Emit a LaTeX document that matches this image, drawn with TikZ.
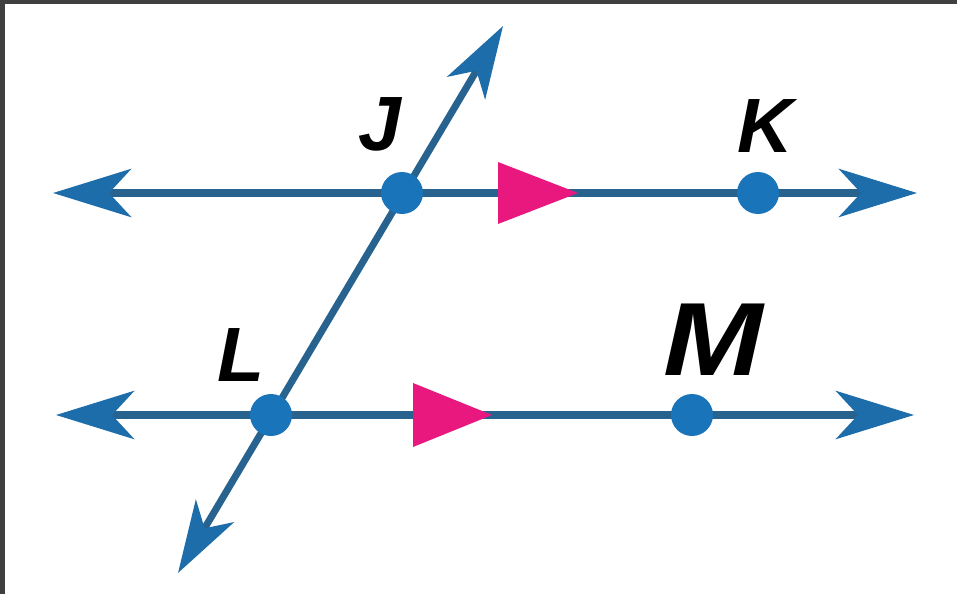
\documentclass[tikz,border=0pt]{standalone}
\usepackage{fontspec}
\setmainfont{Liberation Sans}
\usetikzlibrary{arrows.meta}
\definecolor{lineblue}{HTML}{27638E}
\definecolor{dotblue}{HTML}{1A74BA}
\definecolor{tipblue}{HTML}{1D6DAA}
\definecolor{parpink}{HTML}{E8187F}
\definecolor{framegray}{HTML}{3F3F3F}
\begin{document}
\begin{tikzpicture}[x=1pt,y=-1pt,
  ln/.style={draw=lineblue, line width=7.5pt,
    {Stealth[length=78pt,width=48pt,inset=22pt,color=tipblue]}-{Stealth[length=78pt,width=48pt,inset=22pt,color=tipblue]}},
  trans/.style={draw=lineblue, line width=7pt,
    {Stealth[length=72pt,width=44pt,inset=20pt,color=tipblue]}-{Stealth[length=72pt,width=44pt,inset=20pt,color=tipblue]}},
  pt/.style={circle, fill=dotblue, minimum size=42pt, inner sep=0pt},
  lbl/.style={font=\fontsize{77}{80}\selectfont\bfseries\itshape, inner sep=0pt, text=black},
  parmark/.style={fill=parpink}]
\useasboundingbox (0,0) rectangle (957,594);
\fill[white] (0,0) rectangle (957,594);
\fill[framegray] (0,0) rectangle (957,4);
\fill[framegray] (0,0) rectangle (5,594);
% line ends
\coordinate (A1) at (53,193);
\coordinate (A2) at (917,193);
\coordinate (B1) at (56,415);
\coordinate (B2) at (914,415);
\coordinate (T1) at (178,573);
\coordinate (T2) at (503,26);
% lines
\draw[ln] (A1) -- (A2);
\draw[ln] (B1) -- (B2);
\draw[trans] (T1) -- (T2);
% points
\node[pt] (J) at (402,193) {};
\node[pt] (K) at (758,193) {};
\node[pt] (L) at (271,415) {};
\node[pt] (M) at (692,415) {};
% parallel marks
\fill[parmark] (498,162) -- (578,193) -- (498,224) -- cycle;
\fill[parmark] (413,383) -- (492,415) -- (413,447) -- cycle;
% labels
\node[lbl] (labJ) at (380,124) {J};
\node[lbl] (labK) at (765,126) {K};
\node[lbl] (labL) at (241,355) {L};
\node[lbl, font=\fontsize{104}{104}\selectfont\bfseries\itshape] (labM) at (713,340) {\scalebox{1.15}[1]{M}};
\end{tikzpicture}
\end{document}
